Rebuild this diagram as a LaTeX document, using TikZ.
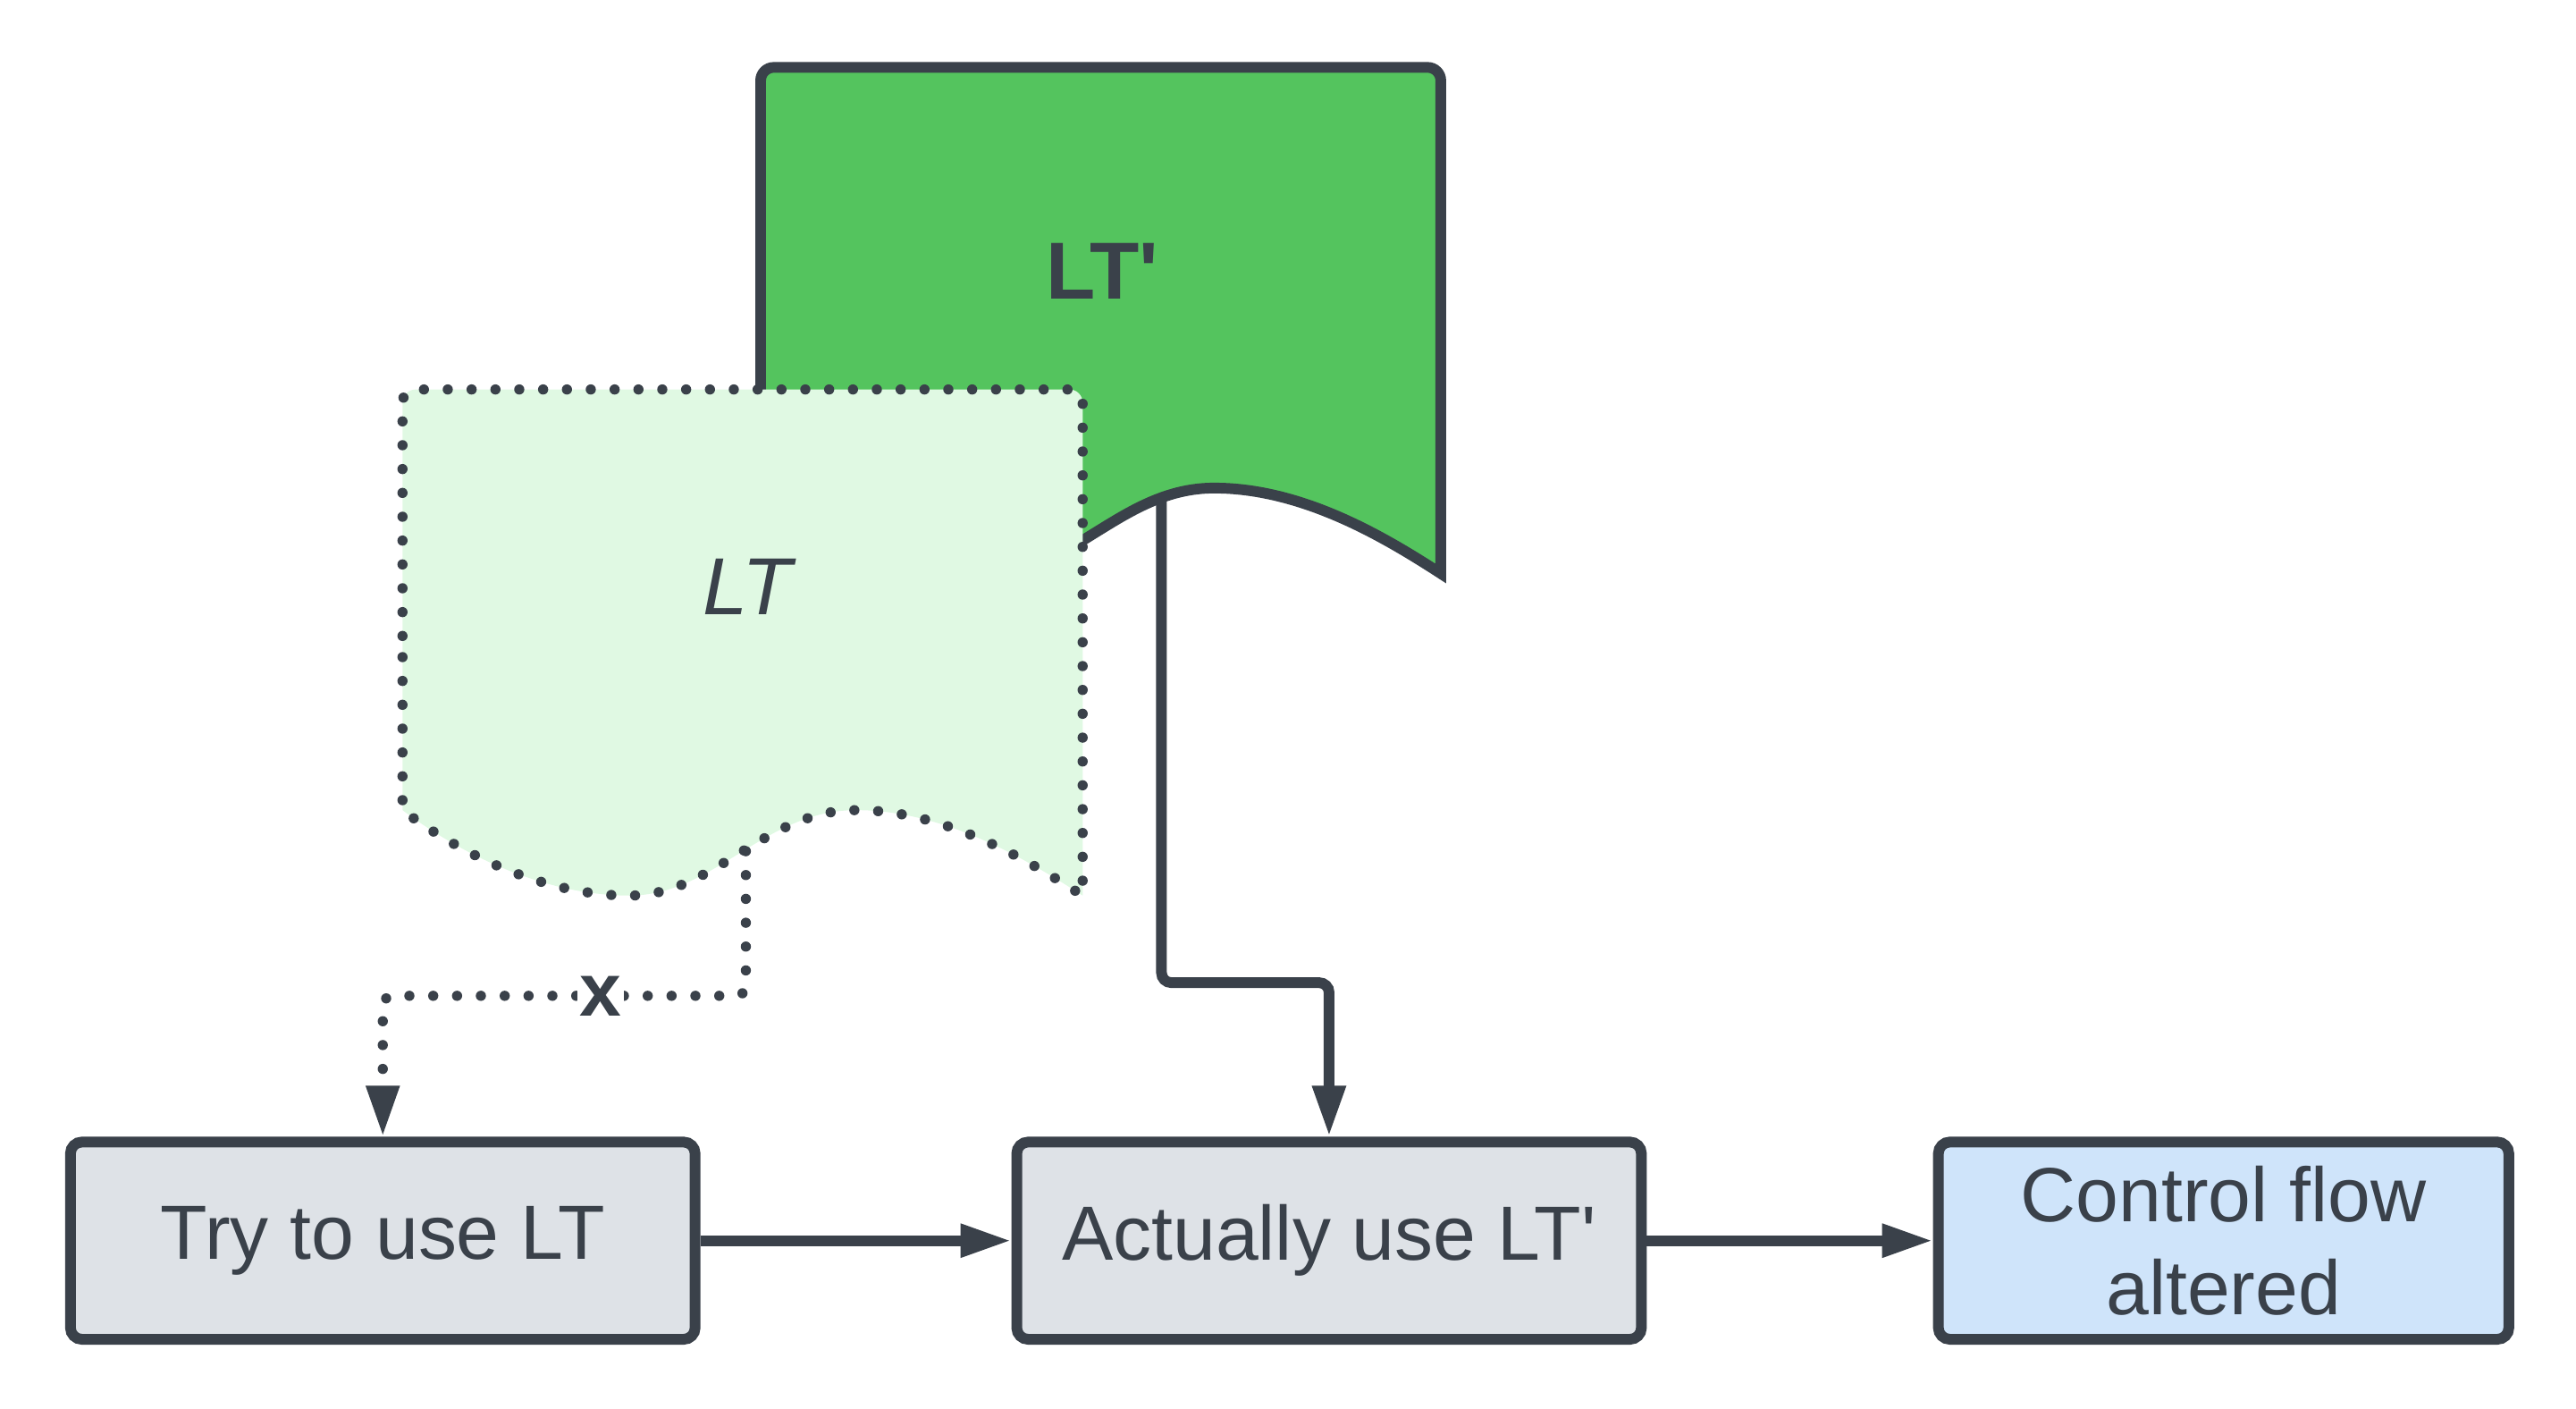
\documentclass[tikz,border=0pt]{standalone}
\usepackage{fontspec}
\setmainfont{Liberation Sans}[Ligatures=TeXOff]
\usepackage{xcolor}
\usepackage{tikz}
\usetikzlibrary{arrows.meta,positioning}
\definecolor{strokecolor}{HTML}{3A414A}
\definecolor{boxfill}{HTML}{DEE2E7}
\definecolor{resultfill}{HTML}{CFE4FA}
\definecolor{newfill}{HTML}{54C45E}
\definecolor{oldfill}{HTML}{E0F9E3}
\tikzset{
  process box/.style={
    rectangle,
    draw=strokecolor,
    fill=boxfill,
    line width=0.065cm,
    rounded corners=0.07cm,
    minimum width=3.8cm,
    minimum height=1.2cm,
    inner sep=0pt,
    align=center,
    text=strokecolor,
    font=\fontsize{13.3}{16}\selectfont
  },
  result box/.style={
    process box,
    fill=resultfill,
    minimum width=3.47cm
  },
  new doc/.style={
    draw=strokecolor,
    fill=newfill,
    line width=0.065cm
  },
  old doc/.style={
    draw=strokecolor,
    fill=oldfill,
    line width=0.062cm,
    line cap=round,
    line join=round,
    dash pattern=on 0pt off 0.145cm
  },
  link/.style={
    draw=strokecolor,
    line width=0.065cm,
    rounded corners=0.06cm,
    -{Triangle[length=0.31cm,width=0.19cm]}
  },
  broken link/.style={
    link,
    line width=0.062cm,
    line cap=round,
    dash pattern=on 0pt off 0.145cm
  },
  doc title/.style={
    text=strokecolor,
    inner sep=0pt
  },
  cross label/.style={
    fill=white,
    inner sep=0.4pt,
    text=strokecolor,
    font=\fontsize{13}{15}\selectfont\bfseries
  }
}
% document shape: style, left x, top y
\newcommand{\drawdoc}[3]{%
  \draw[#1] (#2,#3+150) [rounded corners=0.08cm] -- (#2,#3) -- (#2+414,#3)
    -- (#2+414,#3+150) [sharp corners] -- (#2+414,#3+308)
    .. controls (#2+380,#3+286) and (#2+330,#3+256) .. (#2+276,#3+256)
    .. controls (#2+220,#3+256) and (#2+190,#3+308) .. (#2+138,#3+308)
    .. controls (#2+90,#3+308) and (#2+40,#3+286) .. (#2,#3+256) -- cycle;
}

\begin{document}
\begin{tikzpicture}[x=0.01cm,y=-0.01cm]
  \useasboundingbox (0,0) rectangle (1568,857);

  % the two documents
  \drawdoc{new doc}{463}{41}
  \node[doc title,font=\fontsize{14}{17}\selectfont\bfseries] (LTp) at (671,165) {LT'};
  \drawdoc{old doc}{245}{237}
  \node[doc title,font=\fontsize{14}{17}\selectfont\itshape] (LT) at (455,357) {LT};

  \coordinate (LTp-out) at (707,302);
  \coordinate (LT-out) at (454,518);

  % steps
  \node[process box] (try) at (233,755) {Try to use LT};
  \node[process box] (actual) at (809,755) {Actually use LT'};
  \node[result box] (altered) at (1353.5,755) {Control flow\\altered};

  \draw[link] (try) -- (actual);
  \draw[link] (actual) -- (altered);
  \draw[link] (LTp-out) -- ++(0,296) -| (actual.north);
  \draw[broken link] (LT-out) -- ++(0,88) -| node[pos=0.2,cross label] (cross) {x} (try.north);
\end{tikzpicture}
\end{document}
